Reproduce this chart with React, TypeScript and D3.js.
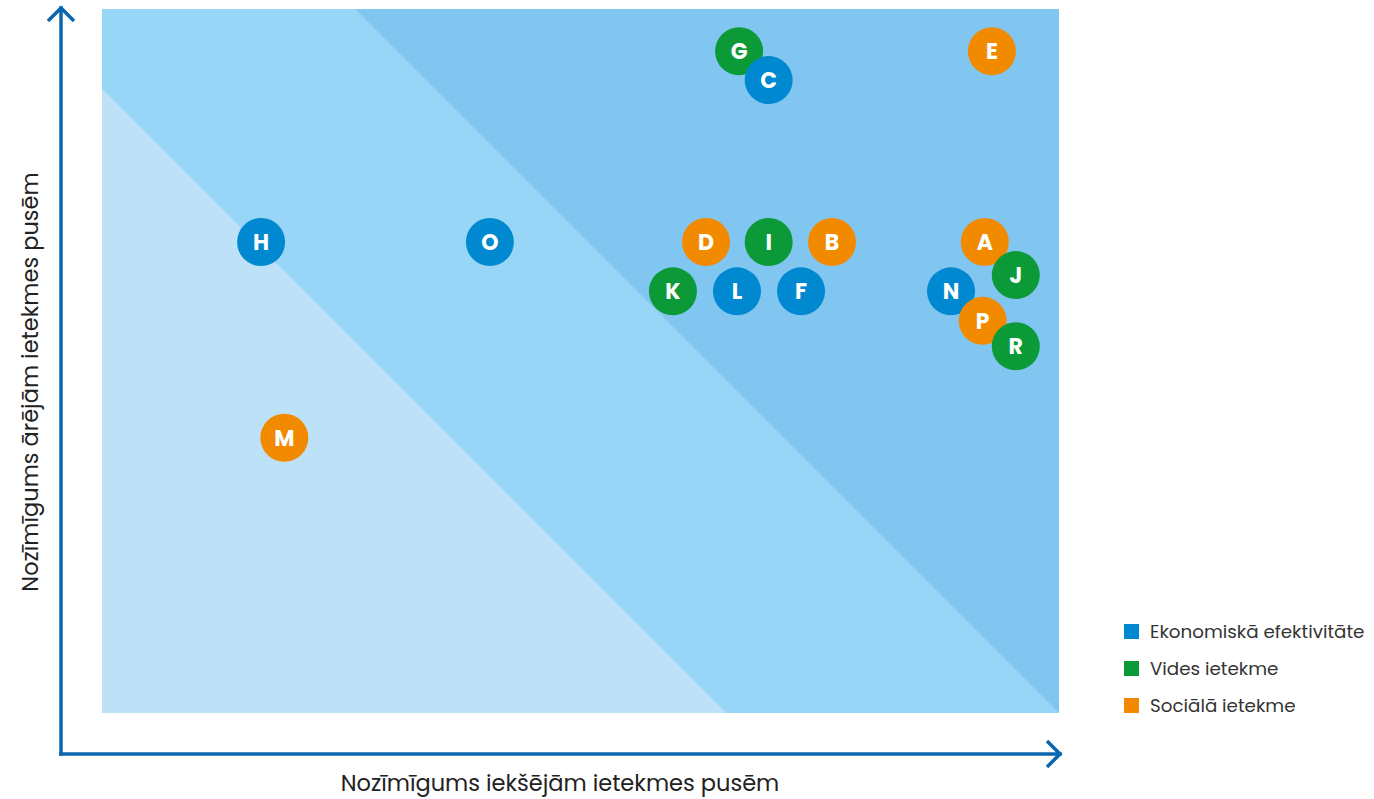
import React from "react";
import * as d3 from "d3";

// ---- data ----
const labels = ["G", "C", "E", "H", "O", "D", "I", "B", "A", "J", "K", "L", "F", "N", "P", "R", "M"];
const internalScores = [9.05, 9.47, 12.64, 2.26, 5.51, 8.58, 9.47, 10.37, 12.54, 12.98, 8.11, 9.02, 9.93, 12.06, 12.51, 12.98, 2.59];
const externalScores = [9.4, 8.99, 9.4, 6.69, 6.69, 6.69, 6.69, 6.69, 6.69, 6.22, 5.99, 5.99, 5.99, 5.99, 5.57, 5.21, 3.91];
const groups = ["vides", "ekon", "soc", "ekon", "ekon", "soc", "vides", "soc", "soc", "vides", "vides", "ekon", "ekon", "ekon", "soc", "vides", "soc"];
const legendKeys = ["ekon", "vides", "soc"];
const legendLabels = ["Ekonomiskā efektivitāte", "Vides ietekme", "Sociālā ietekme"];
const xDomain = [0, 13.594];
const yDomain = [0, 10];
const lowThreshold = 8.864; // x + y boundary of lowest zone
const highThreshold = 13.594; // x + y boundary of highest zone
const xTitle = "Nozīmīgums iekšējām ietekmes pusēm";
const yTitle = "Nozīmīgums ārējām ietekmes pusēm";

const colors: Record<string, string> = { ekon: "#0089D0", vides: "#0B9A37", soc: "#F28A00" };
const axisColor = "#0A66AE";
const font = "Poppins, 'Open Sans', Lato, sans-serif";

export default function App() {
  const W = 1374, H = 799;
  const left = 102, right = 1059, top = 9, bottom = 713;
  const x = d3.scaleLinear().domain(xDomain).range([left, right]);
  const y = d3.scaleLinear().domain(yDomain).range([bottom, top]);
  const xm = xDomain[1], ym = yDomain[1];
  const line = d3.line<[number, number]>().x(d => x(d[0])).y(d => y(d[1]));
  const midPoly: [number, number][] = [[0, 0], [highThreshold, 0], [highThreshold - ym, ym], [0, ym]];
  const lowPoly: [number, number][] = [[0, 0], [lowThreshold, 0], [0, lowThreshold]];
  const r = 24;
  const ax = 61, ay = 754;

  return (
    <svg width={W} height={H} style={{ position: "absolute", left: 0, top: 0, display: "block" }}>
      <rect x={x(0)} y={y(ym)} width={x(xm) - x(0)} height={y(0) - y(ym)} fill="#80C6F0" />
      <path d={line(midPoly) + "Z"} fill="#97D6F7" />
      <path d={line(lowPoly) + "Z"} fill="#BDE2F8" />

      {/* axes */}
      <g stroke={axisColor} strokeWidth={3.5} fill="none" strokeLinecap="square">
        <path d={`M${ax},${ay} L${ax},8`} />
        <path d={`M${ax},${ay} L1060,${ay}`} />
        <path d={`M48,21 L${ax},8 L74,21`} strokeLinecap="butt" />
        <path d={`M1047,${ay - 13} L1060,${ay} L1047,${ay + 13}`} strokeLinecap="butt" />
      </g>
      <text x={560} y={791} textAnchor="middle" fontFamily={font} fontSize={22.5} fill="#222">{xTitle}</text>
      <text transform="translate(38,382) rotate(-90)" textAnchor="middle" fontFamily={font} fontSize={22.5} fill="#222">{yTitle}</text>

      {/* points */}
      {labels.map((lab, i) => (
        <g key={lab} transform={`translate(${x(internalScores[i])},${y(externalScores[i])})`}>
          <circle r={r} fill={colors[groups[i]]} />
          <text textAnchor="middle" dy="0.36em" fontFamily={font} fontWeight={700} fontSize={22} fill="#fff">{lab}</text>
        </g>
      ))}

      {/* legend */}
      {legendKeys.map((k, i) => (
        <g key={k} transform={`translate(1124,${624 + i * 37})`}>
          <rect width={15} height={15} fill={colors[k]} />
          <text x={26} y={8} dy="0.35em" fontFamily={font} fontSize={18.3} fill="#333">{legendLabels[i]}</text>
        </g>
      ))}
    </svg>
  );
}
